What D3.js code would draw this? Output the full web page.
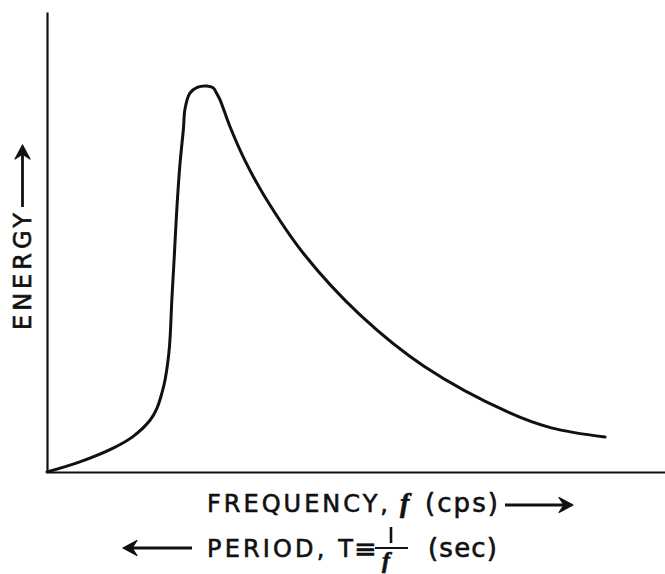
<!DOCTYPE html>
<html>
<head>
<meta charset="utf-8">
<script src="https://cdn.jsdelivr.net/npm/d3@7"></script>
<style>
  body { margin: 0; background: #fff; }
  text { font-family: "DejaVu Sans", sans-serif; fill: #111; stroke: #111; stroke-width: 0.6px; }
</style>
</head>
<body>
<div id="chart"></div>
<script>
// curve (arbitrary units, 0-100 on both axes)
const frequency = [0, 5.3, 10.7, 13.9, 16.7, 17.8, 18.6, 19.1, 19.8, 20.2, 20.6, 21.0, 21.5, 22.1, 22.3, 23.1, 24.3, 25.8, 26.9, 27.5, 28.0, 29.6, 32.0, 35.0, 41.8, 50.7, 61.0, 74.8, 81.6, 90.3];
const energy = [0, 2.2, 5.2, 7.7, 11.3, 13.9, 17.2, 20.0, 27.0, 37.4, 47.0, 57.0, 66.7, 75.0, 78.7, 82.3, 83.6, 83.9, 83.5, 82.2, 80.9, 75.1, 67.8, 60.4, 47.0, 34.1, 23.0, 12.9, 9.6, 7.6];

const xLabel = "FREQUENCY,";
const yLabel = "ENERGY";
const periodLabel = "PERIOD, T";

const width = 665, height = 574;
const margin = { top: 12, right: 0, bottom: 102, left: 47 };

const svg = d3
  .select("#chart")
  .append("svg")
  .attr("width", width)
  .attr("height", height);

const x = d3.scaleLinear().domain([0, 100]).range([margin.left, width - margin.right]);
const y = d3.scaleLinear().domain([0, 100]).range([height - margin.bottom, margin.top]);

// axes without ticks, just the lines
svg
  .append("g")
  .attr("transform", `translate(0,${y(0)})`)
  .call(d3.axisBottom(x).ticks(0).tickSizeOuter(0))
  .select(".domain")
  .attr("stroke", "#111")
  .attr("stroke-width", 2.2);

svg
  .append("g")
  .attr("transform", `translate(${x(0)},0)`)
  .call(d3.axisLeft(y).ticks(0).tickSizeOuter(0))
  .select(".domain")
  .attr("stroke", "#111")
  .attr("stroke-width", 2.2);

// the energy curve
const points = frequency.map((f, i) => [f, energy[i]]);
const line = d3
  .line()
  .x((d) => x(d[0]))
  .y((d) => y(d[1]))
  .curve(d3.curveCatmullRom.alpha(0.5));

svg
  .append("path")
  .datum(points)
  .attr("d", line)
  .attr("fill", "none")
  .attr("stroke", "#111")
  .attr("stroke-width", 3)
  .attr("stroke-linecap", "round");

// arrow helper: line from (x1,y1) to (x2,y2) with head at the end
function arrow(x1, y1, x2, y2) {
  const a = Math.atan2(y2 - y1, x2 - x1);
  const g = svg.append("g").attr("transform", `translate(${x2},${y2}) rotate(${(a * 180) / Math.PI})`);
  const len = Math.hypot(x2 - x1, y2 - y1);
  g.append("line")
    .attr("x1", -len).attr("y1", 0)
    .attr("x2", -4).attr("y2", 0)
    .attr("stroke", "#111")
    .attr("stroke-width", 2.8);
  g.append("path")
    .attr("d", "M0,0 L-14,-7.5 L-9,0 L-14,7.5 Z")
    .attr("fill", "#111")
    .attr("stroke", "#111")
    .attr("stroke-width", 1.2)
    .attr("stroke-linejoin", "round");
}

// x label row
svg.append("text")
  .attr("x", 207).attr("y", 512)
  .attr("font-size", 24)
  .attr("textLength", 181)
  .attr("lengthAdjust", "spacing")
  .text(xLabel);

svg.append("text")
  .attr("x", 400).attr("y", 512)
  .attr("font-size", 28)
  .style("font-family", "'Liberation Serif', serif")
  .style("font-style", "italic")
  .style("font-weight", "bold")
  .text("f");

svg.append("text")
  .attr("x", 425).attr("y", 512)
  .attr("font-size", 26)
  .attr("textLength", 73)
  .attr("lengthAdjust", "spacing")
  .text("(cps)");

arrow(505, 505, 573, 505);

// period row
arrow(192, 548, 123, 548);

svg.append("text")
  .attr("x", 207).attr("y", 557)
  .attr("font-size", 24)
  .attr("textLength", 146)
  .attr("lengthAdjust", "spacing")
  .text(periodLabel);

svg.append("text")
  .attr("x", 354).attr("y", 558)
  .attr("font-size", 27)
  .text("\u2261");

svg.append("line")
  .attr("x1", 375).attr("x2", 408)
  .attr("y1", 548).attr("y2", 548)
  .attr("stroke", "#111")
  .attr("stroke-width", 2.2);

svg.append("line")
  .attr("x1", 391).attr("x2", 391)
  .attr("y1", 527).attr("y2", 543)
  .attr("stroke", "#111")
  .attr("stroke-width", 2.6);

svg.append("text")
  .attr("x", 382).attr("y", 568)
  .attr("font-size", 24)
  .style("font-family", "'Liberation Serif', serif")
  .style("font-style", "italic")
  .style("font-weight", "bold")
  .text("f");

svg.append("text")
  .attr("x", 428).attr("y", 557)
  .attr("font-size", 26)
  .attr("textLength", 69)
  .attr("lengthAdjust", "spacing")
  .text("(sec)");

// y label
svg.append("text")
  .attr("transform", "translate(31,330) rotate(-90)")
  .attr("font-size", 24)
  .attr("textLength", 117)
  .attr("lengthAdjust", "spacing")
  .text(yLabel);

arrow(22.5, 207, 22.5, 145);
</script>
</body>
</html>
